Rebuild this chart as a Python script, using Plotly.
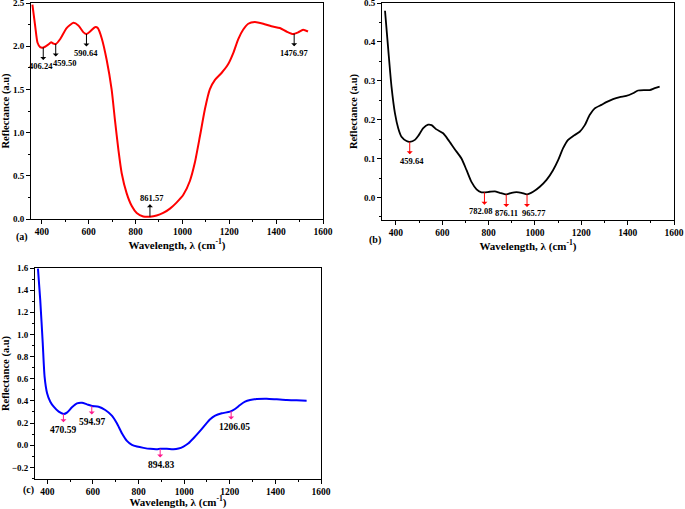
import numpy as np
import plotly.graph_objects as go

# ---------------- data ----------------
# Panel (a) - red curve
a_wavelength = [360, 372, 382, 393, 407, 428, 440, 450, 460, 478, 506, 535, 556, 578, 590,
                606, 627, 639, 656, 677, 698, 712, 727, 741, 762, 784, 805, 833, 862, 890,
                918, 947, 975, 1004, 1032, 1053, 1075, 1096, 1117, 1139, 1167, 1195, 1217,
                1238, 1259, 1281, 1309, 1345, 1380, 1416, 1444, 1472, 1494, 1515, 1536]
a_reflectance = [2.48, 2.23, 2.04, 1.99, 1.985, 2.02, 2.045, 2.03, 2.025, 2.08, 2.21, 2.27, 2.24,
                 2.16, 2.14, 2.17, 2.22, 2.21, 2.09, 1.84, 1.50, 1.15, 0.80, 0.53, 0.30, 0.15,
                 0.07, 0.03, 0.027, 0.04, 0.07, 0.12, 0.19, 0.28, 0.44, 0.65, 0.96, 1.27, 1.50,
                 1.61, 1.69, 1.79, 1.92, 2.08, 2.19, 2.26, 2.28, 2.26, 2.23, 2.21, 2.17, 2.14,
                 2.16, 2.19, 2.17]
a_peaks = [406.24, 459.50, 590.64, 861.57, 1476.97]

# Panel (b) - black curve
b_wavelength = [353, 367, 381, 396, 410, 424, 446, 460, 482, 496, 518, 539, 554, 575, 604,
                626, 654, 683, 705, 726, 748, 769, 781, 805, 827, 848, 877, 899, 920, 942,
                966, 992, 1021, 1050, 1078, 1100, 1121, 1143, 1165, 1193, 1215, 1236, 1258,
                1287, 1308, 1337, 1366, 1394, 1423, 1445, 1474, 1495, 1517, 1538]
b_reflectance = [0.480, 0.38, 0.285, 0.216, 0.178, 0.156, 0.145, 0.143, 0.148, 0.158, 0.178,
                 0.187, 0.186, 0.175, 0.165, 0.148, 0.124, 0.100, 0.070, 0.040, 0.021, 0.013,
                 0.013, 0.0146, 0.0155, 0.012, 0.0077, 0.012, 0.0137, 0.012, 0.0077, 0.0146,
                 0.0275, 0.045, 0.070, 0.096, 0.126, 0.148, 0.158, 0.169, 0.186, 0.212, 0.229,
                 0.238, 0.245, 0.253, 0.258, 0.261, 0.268, 0.275, 0.276, 0.276, 0.281, 0.285]
b_peaks = [459.64, 782.08, 876.11, 965.77]

# Panel (c) - blue curve
c_wavelength = [359, 369, 380, 388, 399, 413, 428, 450, 472, 486, 508, 530, 552, 574, 596,
                625, 654, 683, 705, 727, 749, 771, 793, 822, 851, 880, 895, 924, 953, 975,
                997, 1019, 1041, 1070, 1092, 1114, 1136, 1165, 1201, 1223, 1245, 1267, 1289,
                1318, 1362, 1406, 1450, 1493, 1537]
c_reflectance = [1.594, 1.31, 0.92, 0.62, 0.47, 0.393, 0.348, 0.303, 0.282, 0.294, 0.342,
                 0.378, 0.384, 0.369, 0.354, 0.348, 0.318, 0.267, 0.198, 0.108, 0.039, 0.003,
                 -0.012, -0.024, -0.033, -0.036, -0.033, -0.033, -0.036, -0.030, -0.012, 0.018,
                 0.063, 0.129, 0.183, 0.234, 0.267, 0.288, 0.303, 0.327, 0.363, 0.393, 0.408,
                 0.417, 0.420, 0.414, 0.408, 0.405, 0.402]
c_peaks = [470.59, 594.97, 894.83, 1206.05]

x_tick_title = "Wavelength, λ (cm<sup>-1</sup>)"
y_tick_title = "Reflectance (a.u)"
panel_labels = ["(a)", "(b)", "(c)"]

# ---------------- style ----------------
FONT = "Liberation Serif"
W, H = 685, 509


def px_x(p):
    return p / W


def px_y(p):
    return 1 - p / H


fig = go.Figure()
fig.add_trace(go.Scatter(x=a_wavelength, y=a_reflectance, mode="lines", line=dict(color="#ff0000", width=2, shape="spline", smoothing=0.6),
                         xaxis="x", yaxis="y", showlegend=False, hoverinfo="skip"))
fig.add_trace(go.Scatter(x=b_wavelength, y=b_reflectance, mode="lines", line=dict(color="#000000", width=1.8, shape="spline", smoothing=0.6),
                         xaxis="x2", yaxis="y2", showlegend=False, hoverinfo="skip"))
fig.add_trace(go.Scatter(x=c_wavelength, y=c_reflectance, mode="lines", line=dict(color="#0000ff", width=2, shape="spline", smoothing=0.6),
                         xaxis="x3", yaxis="y3", showlegend=False, hoverinfo="skip"))


def xaxis(rng, domain, anchor):
    return dict(range=rng, domain=domain, anchor=anchor, showline=True, linecolor="black", linewidth=1,
                mirror=True, ticks="outside", ticklen=4, tickwidth=1, tickcolor="black", automargin=False,
                ticklabeloverflow="allow",
                tick0=0, dtick=200, minor=dict(ticks="outside", ticklen=2, dtick=100, tick0=0, tickcolor="black"),
                showgrid=False, zeroline=False,
                tickfont=dict(family=FONT, size=9.5, color="black", weight="bold"),
                title=dict(text=x_tick_title, font=dict(family=FONT, size=11, color="black", weight="bold"), standoff=4))


def yaxis(rng, domain, anchor, dtick, mdtick):
    return dict(range=rng, domain=domain, anchor=anchor, showline=True, linecolor="black", linewidth=1,
                mirror=True, ticks="outside", ticklen=4, tickwidth=1, tickcolor="black", automargin=False,
                ticklabeloverflow="allow",
                tick0=0, dtick=dtick, tickformat=".1f",
                minor=dict(ticks="outside", ticklen=2, dtick=mdtick, tick0=0, tickcolor="black"),
                showgrid=False, zeroline=False,
                tickfont=dict(family=FONT, size=9, color="black", weight="bold"),
                title=dict(text=y_tick_title, font=dict(family=FONT, size=10.5, color="black", weight="bold"), standoff=4))


fig.update_layout(
    width=W, height=H, margin=dict(l=0, r=0, t=0, b=0, autoexpand=False),
    paper_bgcolor="white", plot_bgcolor="white",
    xaxis=xaxis([354, 1600], [px_x(31), px_x(323)], "y"),
    yaxis=yaxis([0, 2.5], [px_y(219), px_y(3)], "x", 0.5, 0.25),
    xaxis2=xaxis([340, 1600], [px_x(382), px_x(674)], "y2"),
    yaxis2=yaxis([-0.058, 0.5], [px_y(220), px_y(3)], "x2", 0.1, 0.05),
    xaxis3=xaxis([346, 1600], [px_x(35), px_x(321)], "y3"),
    yaxis3=yaxis([-0.305, 1.6], [px_y(479), px_y(268)], "x3", 0.2, 0.1),
)

annotations = []


def add_peaks(peaks, xs, ys, xr, yr, color, arrow_len, label_off, xshifts, directions, fsize):
    for p, dx, d in zip(peaks, xshifts, directions):
        cy = float(np.interp(p, xs, ys))
        annotations.append(dict(x=p, y=cy, xref=xr, yref=yr, ax=0, ay=d * arrow_len, text="",
                                showarrow=True, arrowhead=2, arrowsize=1.1, arrowwidth=1,
                                arrowcolor=color, arrowside="start", standoff=0, startstandoff=0))
        annotations.append(dict(x=p, y=cy, xref=xr, yref=yr, text=f"{p:.2f}", showarrow=False,
                                xshift=dx, yshift=-d * label_off, yanchor="middle",
                                font=dict(family=FONT, size=fsize, color="black", weight="bold")))


add_peaks(a_peaks, a_wavelength, a_reflectance, "x", "y", "black", 14, 19,
          [-2, 9, 0, 2, 0], [1, 1, 1, -1, 1], 8.5)
add_peaks(b_peaks, b_wavelength, b_reflectance, "x2", "y2", "#ff0000", 14, 19,
          [2, -4, 0, 7], [1, 1, 1, 1], 8.5)
add_peaks(c_peaks, c_wavelength, c_reflectance, "x3", "y3", "#ff1a8c", 10, 16,
          [0, 0, 1, 3], [1, 1, 1, 1], 9.5)

for txt, (px, py) in zip(panel_labels, [(22, 237), (375, 240), (28, 490)]):
    annotations.append(dict(x=px_x(px), y=px_y(py), xref="paper", yref="paper", text=txt, showarrow=False,
                            xanchor="center", yanchor="middle",
                            font=dict(family=FONT, size=10, color="black", weight="bold")))

fig.update_layout(annotations=annotations)
fig.write_html("out.html", config={"displayModeBar": False},
               post_script="document.body.style.margin='0';document.body.style.overflow='hidden';")
